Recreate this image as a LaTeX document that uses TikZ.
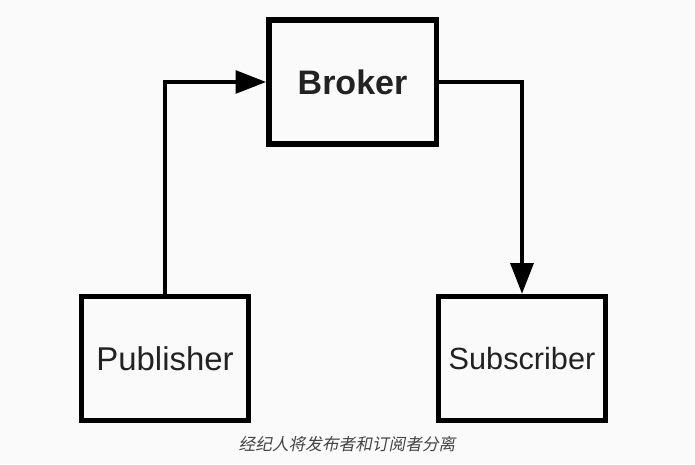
\documentclass[tikz,border=0pt]{standalone}
\usepackage{fontspec}
\setmainfont{Liberation Sans}
\newfontfamily\cjk[FakeSlant=0.2]{Noto Sans CJK SC}
\usetikzlibrary{arrows.meta}
\definecolor{txtgray}{HTML}{222222}
\definecolor{capgray}{HTML}{444444}
\begin{document}
\begin{tikzpicture}[x=0.75pt,y=-0.75pt,>={Triangle[length=23pt,width=17pt]},line join=miter,
	box/.style={draw,line width=4pt,minimum width=125.5pt,minimum height=93pt,text=txtgray},
	link/.style={->,line width=3pt}]
	\fill[white!98!black] (0,0) rectangle (695,464);
	\node[box,font=\fontsize{25.5}{28}\selectfont] (broker) at (352.5,82) {\bfseries Broker};
	\node[box,font=\fontsize{24.7}{28}\selectfont] (pub) at (165,358.5) {Publisher};
	\node[box,font=\fontsize{23}{28}\selectfont] (sub) at (522,358.5) {Subscriber};
	\draw[link] (pub.north) |- (broker.west);
	\draw[link] (broker.east) -| (sub.north);
	\node[text=capgray,font=\cjk\fontsize{12.5}{15}\selectfont] (cap) at (347,444) {经纪人将发布者和订阅者分离};
\end{tikzpicture}
\end{document}
